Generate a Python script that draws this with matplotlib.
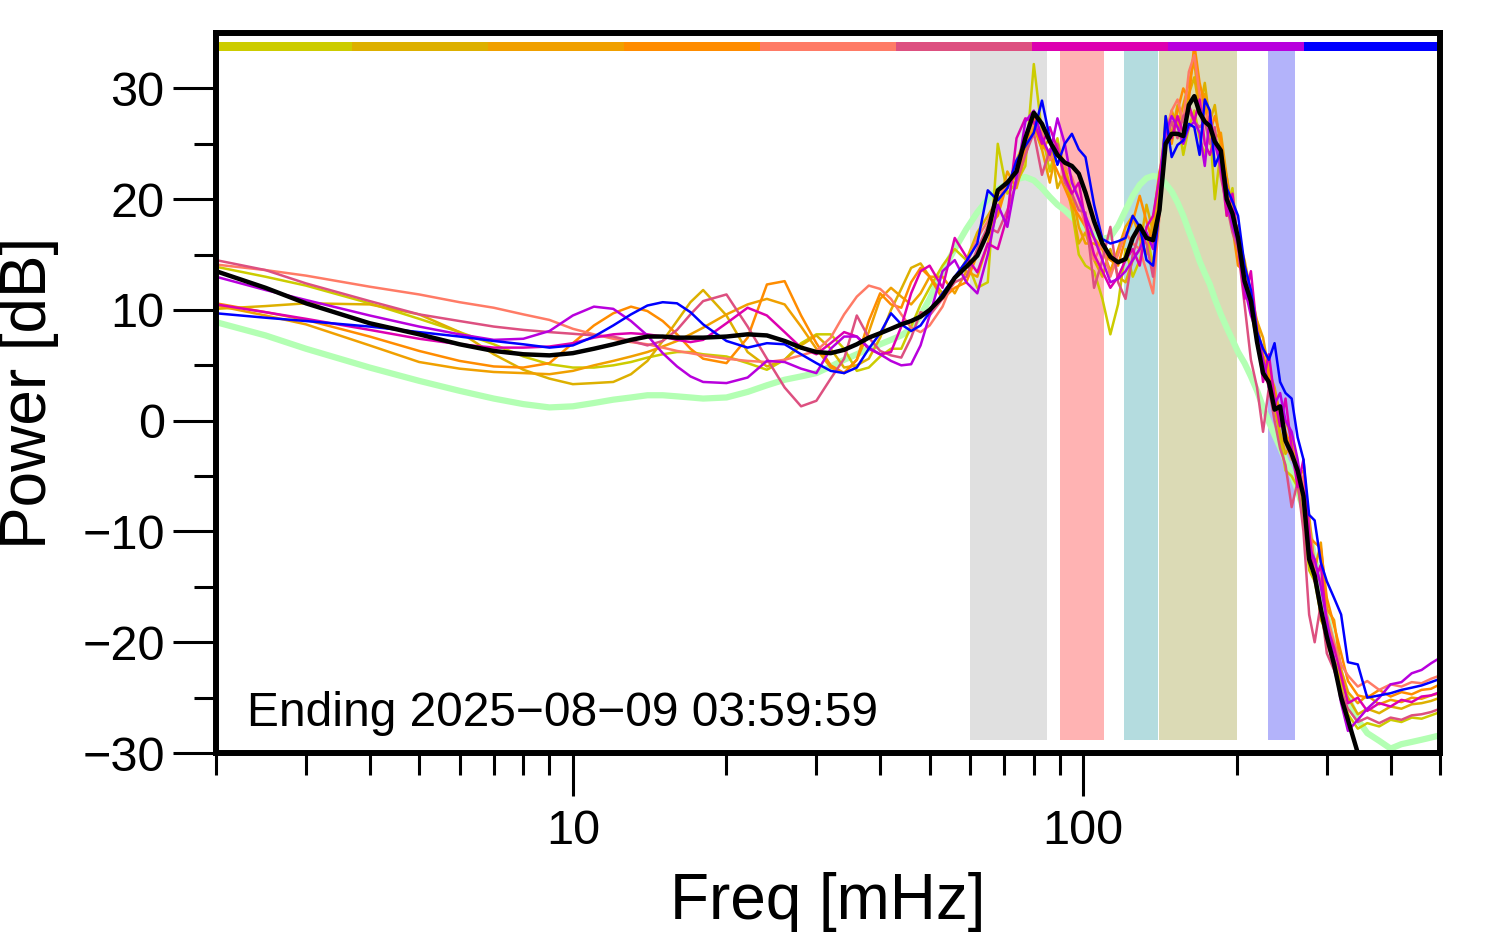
import numpy as np
import matplotlib
matplotlib.use('Agg')
from matplotlib import pyplot as plt
from matplotlib.ticker import FixedLocator, NullFormatter

plt.rcParams['font.family'] = ['Liberation Sans', 'DejaVu Sans']

# frequency grid [mHz]
freq = [2, 2.5, 3, 4, 5, 6, 7, 8, 9, 10, 11, 12, 13, 14, 15, 16, 17, 18, 20, 22,
        24, 26, 28, 30, 32, 34, 36, 38, 40, 42, 44, 46, 48, 50, 53, 56,
        59, 62, 65, 68, 71, 74, 77, 80, 83, 86, 89, 92, 95, 98,
        101, 105, 109, 113, 117, 121, 125, 129, 133, 137, 141, 145, 149, 153, 157, 161,
        165, 169, 173, 177, 181, 186, 191, 196, 201,
        207, 213, 219, 225, 231, 237, 243, 249, 256, 263, 270, 277, 284, 292, 300,
        310, 320, 330, 345, 360, 380, 400, 420, 440, 460, 480, 500]

# power spectra [dB], one per time segment
olive = [13.9, 13.0, 12.2, 10.6, 9.2, 8.0, 6.9, 5.8, 5.1, 4.8, 4.8, 5.0, 5.3, 5.7, 6.0, 6.2, 6.2, 6.0,
         5.8, 5.2, 4.6, 5.5, 7.0, 7.8, 7.8, 6.5, 4.5, 4.8, 5.8, 6.5, 6.5, 8.5, 10.5, 12.0, 14.0, 15.5,
         14.5, 12.0, 12.5, 25.0, 20.5, 21.5, 23.0, 32.2, 26.0, 22.5, 25.5, 22.0, 19.0, 15.0,
         14.0, 13.5, 11.0, 7.8, 10.5, 15.5, 13.0, 14.5, 17.0, 14.0, 19.5, 27.5, 25.5, 27.5, 24.0, 26.5,
         28.0, 25.5, 24.0, 26.5, 20.0, 24.5, 18.5, 21.0, 15.5,
         13.0, 10.0, 7.0, 5.0, 3.5, 1.5, -1.5, -4.5, -5.0, -6.0, -9.0, -13.5, -14.5, -17.5, -20.0,
         -22.0, -24.0, -26.5, -27.8, -27.3, -27.6, -27.0, -27.2, -26.8, -26.9, -26.6, -26.3]
gold = [10.1, 10.35, 10.6, 10.5, 9.6, 8.0, 6.0, 4.6, 3.8, 3.3, 3.4, 3.5, 4.2, 5.4, 7.2, 9.0, 10.7, 11.8,
        9.5, 6.2, 4.9, 5.5, 6.8, 7.7, 6.5, 4.8, 5.0, 5.6, 7.5, 10.0, 11.9, 13.8, 14.2, 13.0, 11.5, 12.8,
        14.5, 17.0, 18.5, 20.0, 21.0, 23.5, 25.5, 27.0, 24.5, 25.5, 21.0, 22.5, 19.5, 16.0,
        17.0, 14.5, 13.0, 15.5, 13.0, 12.5, 14.5, 15.5, 19.5, 17.0, 21.0, 27.0, 26.0, 28.5, 27.0, 29.5,
        31.0, 28.0, 30.5, 27.0, 28.5, 24.5, 22.0, 18.0, 17.5,
        12.5, 10.0, 9.0, 5.5, 3.5, 1.0, -1.0, -3.0, -2.0, -5.5, -7.5, -11.0, -13.0, -18.0, -19.0,
        -21.5, -23.5, -25.0, -26.5, -26.0, -26.4, -25.8, -26.0, -25.6, -25.5, -25.3, -25.0]
orange = [10.4, 9.5, 8.7, 6.8, 5.3, 4.7, 4.4, 4.3, 4.2, 4.5, 5.0, 5.4, 5.8, 6.2, 6.7, 7.2, 7.8, 8.4,
          9.6, 10.5, 11.0, 10.5, 8.5, 6.5, 4.8, 4.3, 5.5, 8.0, 11.0, 12.0, 11.2, 10.5, 11.5, 13.0, 13.0, 11.5,
          13.5, 13.0, 16.0, 19.0, 22.5, 21.0, 24.0, 26.5, 24.5, 21.5, 25.0, 23.0, 20.5, 17.5,
          16.0, 16.0, 15.5, 13.5, 15.5, 17.5, 18.5, 16.5, 15.0, 18.0, 22.5, 25.0, 28.0, 26.5, 28.5, 30.5,
          32.5, 28.0, 29.5, 27.0, 25.5, 26.0, 22.0, 19.0, 16.5,
          14.5, 11.5, 9.0, 7.5, 4.5, 3.0, 0.5, 0.0, -1.5, -4.5, -6.5, -8.5, -13.5, -11.0, -17.0,
          -18.0, -22.5, -24.5, -25.5, -24.8, -25.6, -25.2, -25.4, -25.0, -25.1, -24.8, -24.6]
darkorange = [10.6, 9.8, 9.1, 7.6, 6.3, 5.4, 4.9, 4.8, 5.2, 7.0, 8.6, 9.7, 10.3, 9.9, 9.0, 7.8, 6.5, 5.6,
              5.2, 7.5, 12.3, 12.6, 9.5, 7.0, 5.0, 4.3, 5.5, 9.0, 11.5, 10.5, 10.2, 12.5, 13.8, 13.0, 11.0, 12.0,
              12.5, 15.0, 17.5, 18.5, 21.5, 22.0, 24.5, 27.5, 25.0, 24.0, 22.5, 21.0, 19.5, 18.5,
              17.5, 16.5, 15.5, 14.5, 14.0, 16.5, 18.0, 20.3, 18.0, 16.0, 20.0, 26.5, 25.0, 28.0, 30.0, 29.0,
              34.0, 30.5, 28.5, 26.0, 27.5, 25.5, 21.5, 17.5, 14.0,
              13.5, 10.0, 8.5, 6.0, 4.0, 2.0, 1.0, -1.0, -2.5, -5.0, -4.5, -10.5, -11.0, -11.5, -16.0,
              -18.5, -21.0, -23.5, -24.8, -25.0, -24.3, -24.9, -24.5, -24.7, -24.3, -24.2, -23.8]
salmon = [14.1, 13.6, 13.1, 12.1, 11.4, 10.7, 10.2, 9.6, 9.1, 8.3, 7.8, 7.4, 7.1, 6.9, 6.6, 6.3, 6.1, 5.9,
          5.6, 5.4, 5.3, 5.5, 5.9, 6.3, 7.5, 9.6, 11.2, 12.2, 11.9, 11.0, 9.6, 8.4, 8.0, 8.6, 10.3, 13.0,
          14.0, 16.5, 18.0, 20.5, 21.0, 23.0, 25.5, 27.0, 26.0, 23.5, 24.5, 23.0, 22.0, 20.0,
          17.5, 14.5, 16.0, 13.0, 15.0, 17.0, 16.0, 15.5, 13.5, 11.5, 18.5, 26.0, 28.0, 29.0, 27.0, 31.5,
          33.0, 29.5, 27.0, 28.0, 25.0, 24.0, 21.0, 18.5, 17.0,
          13.0, 10.5, 7.5, 5.0, 3.0, 1.0, 0.5, -2.0, -3.5, -4.0, -5.5, -9.5, -13.0, -14.5, -17.5,
          -20.0, -22.0, -23.0, -24.0, -23.5, -24.3, -23.8, -24.0, -23.6, -23.7, -23.3, -23.0]
rose = [14.5, 13.6, 12.4, 10.8, 9.6, 9.0, 8.5, 8.2, 8.0, 7.85, 7.7, 7.6, 7.2, 6.8, 7.2, 8.2, 9.6, 10.8,
        11.4, 8.5, 5.6, 3.0, 1.3, 1.8, 3.8, 5.6, 9.5, 7.5, 6.3, 5.9, 5.7, 7.5, 9.8, 9.5, 11.0, 12.5,
        13.0, 15.5, 17.5, 17.0, 19.0, 21.5, 24.0, 26.0, 22.2, 24.5, 25.0, 21.5, 20.5, 19.0,
        18.8, 12.0, 14.5, 17.5, 12.5, 11.0, 15.0, 17.0, 16.0, 13.0, 20.0, 25.0, 27.0, 25.5, 27.5, 28.0,
        27.0, 26.5, 27.0, 25.0, 26.5, 22.0, 19.5, 17.0, 15.5,
        10.5, 5.5, 3.0, -1.0, 3.0, 0.0, -2.5, -4.0, -7.8, -5.5, -10.0, -17.5, -20.0, -16.5, -21.0,
        -22.5, -24.5, -26.0, -27.2, -26.8, -27.3, -26.8, -27.0, -26.6, -26.5, -26.3, -26.0]
magenta = [10.5, 9.8, 9.2, 8.2, 7.4, 6.9, 6.6, 6.6, 6.7, 7.0, 7.5, 7.8, 7.9, 7.8, 7.6, 7.3, 7.1, 7.3,
           8.8, 10.2, 9.5, 8.0, 6.6, 6.0, 7.0, 8.0, 7.6, 6.5, 6.0, 6.2, 8.5, 11.5, 13.5, 14.0, 12.0, 16.5,
           14.8, 13.4, 16.0, 15.5, 18.5, 25.5, 27.3, 27.0, 25.0, 26.5, 24.5, 22.0, 20.5, 21.5,
           18.0, 15.0, 13.5, 12.0, 13.0, 14.5, 15.5, 14.0, 17.5, 18.5, 22.0, 26.5, 25.5, 27.5, 26.0, 28.5,
           27.0, 29.0, 25.0, 24.0, 25.5, 23.0, 18.5, 20.5, 16.0,
           11.0, 13.5, 8.0, 3.5, 6.0, 2.0, -0.5, 2.0, -2.5, -6.0, -3.5, -10.0, -14.5, -13.0, -18.5,
           -20.5, -23.0, -25.5, -25.0, -26.2, -25.5, -25.8, -25.2, -25.4, -24.9, -24.8, -24.5]
purple = [13.0, 11.8, 10.9, 9.5, 8.5, 7.8, 7.3, 7.4, 8.1, 9.5, 10.3, 10.1, 9.0, 7.7, 6.1, 4.9, 4.0, 3.5,
          3.4, 3.9, 5.4, 5.3, 4.7, 4.3, 6.5, 7.6, 7.6, 6.6, 6.0, 5.4, 5.0, 5.1, 6.8, 9.5, 13.5, 14.5,
          12.5, 11.5, 15.0, 19.5, 17.5, 22.0, 27.0, 28.0, 25.5, 24.0, 27.3, 25.0, 21.5, 20.0,
          18.5, 16.5, 14.5, 12.5, 12.8, 13.5, 14.5, 15.5, 17.0, 15.5, 19.0, 26.0, 27.5, 26.5, 25.0, 26.5,
          27.0, 26.0, 23.0, 27.5, 25.0, 23.0, 20.0, 17.5, 16.0,
          12.0, 9.5, 8.0, 5.5, 3.0, 1.5, 2.5, 0.0, -1.0, -3.5, -7.0, -11.5, -12.5, -15.0, -18.0,
          -21.5, -25.5, -28.0, -27.0, -26.0, -25.0, -23.8, -23.6, -22.8, -22.5, -21.9, -21.4]
blue = [9.7, 9.3, 9.0, 8.5, 8.0, 7.6, 7.2, 6.9, 6.6, 6.8, 7.6, 8.6, 9.6, 10.4, 10.7, 10.6, 9.8, 8.7,
        7.2, 6.6, 7.0, 6.9, 6.0, 5.2, 4.5, 4.3, 4.8, 6.5, 7.9, 9.7, 8.7, 8.1, 8.6, 9.8, 11.5, 13.0,
        14.4, 16.0, 20.8, 19.9, 21.0, 23.5, 24.8, 26.0, 28.9, 25.5, 23.1, 25.0, 25.9, 24.5,
        23.8, 19.5, 16.4, 16.0, 16.2, 16.5, 18.5, 17.5, 14.5, 14.0, 19.0, 27.5, 23.8, 24.9, 25.3, 26.8,
        26.5, 24.0, 29.0, 28.0, 23.0, 24.3, 21.0, 19.8, 18.5,
        14.0, 11.8, 8.0, 6.5, 5.5, 7.0, 3.5, 2.5, 2.0, -1.5, -3.5, -8.5, -9.0, -12.8, -14.5,
        -16.0, -17.5, -21.8, -22.0, -25.0, -24.8, -24.6, -24.3, -24.1, -23.9, -23.6, -23.3]

# average spectrum and reference spectrum
mean_power = [13.5, 12.0, 10.6, 8.8, 7.8, 6.9, 6.3, 6.0, 5.9, 6.1, 6.5, 6.9, 7.3, 7.6, 7.6, 7.5, 7.5, 7.5,
              7.6, 7.8, 7.7, 7.2, 6.6, 6.2, 6.1, 6.4, 6.9, 7.5, 7.9, 8.3, 8.7, 9.0, 9.4, 10.0, 11.2, 12.9,
              13.9, 14.9, 17.0, 20.8, 21.5, 22.5, 25.5, 27.8, 26.8, 25.2, 24.0, 23.3, 23.0, 22.3,
              20.6, 18.0, 16.0, 14.8, 14.3, 14.6, 16.5, 17.6, 16.5, 16.3, 19.0, 25.0, 25.9, 25.9, 25.7, 28.5,
              29.3, 27.8, 27.0, 26.6, 25.2, 24.4, 20.0, 18.7, 16.5,
              12.6, 10.8, 7.1, 4.3, 3.5, 1.0, 1.3, -1.8, -3.0, -4.5, -6.8, -12.5, -14.0, -17.0, -19.5,
              -22.0, -25.0, -27.0, -30.0, -31.5, np.nan, np.nan, np.nan, np.nan, np.nan, np.nan, np.nan]
reference = [8.9, 7.7, 6.5, 4.8, 3.6, 2.7, 2.0, 1.5, 1.2, 1.3, 1.6, 1.9, 2.1, 2.3, 2.3, 2.2, 2.1, 2.0,
             2.1, 2.6, 3.2, 3.7, 4.0, 4.3, 4.9, 5.5, 6.0, 6.5, 6.9, 7.3, 7.7, 8.3, 9.5, 11.0, 13.5, 15.5,
             17.3, 18.8, 20.0, 20.9, 21.4, 21.8, 22.0, 21.7, 21.0, 20.2, 19.5, 19.0, 18.4, 17.8,
             17.3, 16.8, 16.4, 16.6, 17.6, 19.0, 20.3, 21.3, 21.9, 22.1, 22.0, 21.4, 20.7, 19.7, 18.5, 17.1,
             15.8, 14.4, 13.3, 12.3, 11.0, 9.6, 8.4, 7.3, 6.2,
             5.2, 4.0, 2.7, 1.2, -0.1, -1.3, -2.4, -3.6, -4.8, -6.3, -8.0, -10.0, -12.5, -15.0, -17.5,
             -20.5, -23.0, -25.0, -27.0, -28.2, -28.9, -29.6, -29.2, -29.0, -28.8, -28.6, -28.4]

series = [olive, gold, orange, darkorange, salmon, rose, magenta, purple, blue]
series_colors = ['#cccc00', '#ddb000', '#f0a000', '#ff8c00', '#ff7b66',
                 '#dd5080', '#dd00b0', '#b800dd', '#0000ff']

# shaded frequency bands [mHz]
band_lo = [60, 90, 120, 141, 230]
band_hi = [85, 110, 140, 200, 260]
band_colors = ['#e0e0e0', '#ffb3b3', '#b4dcdf', '#dbdab5', '#b3b3fa']

fig = plt.figure(figsize=(14.94, 9.52), dpi=100)
ax = fig.add_axes([0.1446, 0.2090, 0.8193, 0.7563])

for lo, hi, c in zip(band_lo, band_hi, band_colors):
    ax.axvspan(lo, hi, ymin=0.0185, ymax=0.9746, color=c, lw=0, zorder=0)

ax.plot(freq, reference, color='#b3ffb3', lw=4.5, zorder=2, solid_joinstyle='round')
for vals, c in zip(series, series_colors):
    ax.plot(freq, vals, color=c, lw=1.8, zorder=3, solid_joinstyle='round')
ax.plot(freq, mean_power, color='black', lw=3.2, zorder=4, solid_joinstyle='round')

# colour key strip along the top
n = len(series_colors)
for i, c in enumerate(series_colors):
    ax.axhspan(33.35, 34.15, xmin=i / n, xmax=(i + 1) / n, color=c, lw=0, zorder=5)

ax.set_xscale('log')
ax.set_xlim(2, 500)
ax.set_ylim(-30, 35)

ax.xaxis.set_major_locator(FixedLocator([10, 100]))
ax.set_xticklabels(['10', '100'])
ax.xaxis.set_minor_locator(FixedLocator([2, 3, 4, 5, 6, 7, 8, 9, 20, 30, 40, 50, 60, 70, 80, 90,
                                         200, 300, 400, 500]))
ax.xaxis.set_minor_formatter(NullFormatter())
ax.set_yticks(np.arange(-30, 31, 10))
ax.yaxis.set_minor_locator(FixedLocator(np.arange(-25, 31, 10)))

ax.tick_params(which='major', direction='out', length=31, width=2.2, labelsize=35)
ax.tick_params(which='minor', direction='out', length=15.5, width=2.2)
ax.tick_params(axis='x', which='major', pad=9)
ax.tick_params(axis='y', which='major', pad=6)
for sp in ax.spines.values():
    sp.set_linewidth(4.3)
    sp.set_zorder(6)

ax.text(0.0253, 0.0375, 'Ending 2025\u221208\u221209 03:59:59', transform=ax.transAxes,
        fontsize=34.5, ha='left', va='baseline', zorder=7)

ax.set_xlabel('Freq [mHz]', fontsize=46)
ax.xaxis.set_label_coords(0.5, -0.165)
ax.set_ylabel('Power [dB]', fontsize=46)
ax.yaxis.set_label_coords(-0.128, 0.5)

fig.savefig('out.png', dpi=100)
